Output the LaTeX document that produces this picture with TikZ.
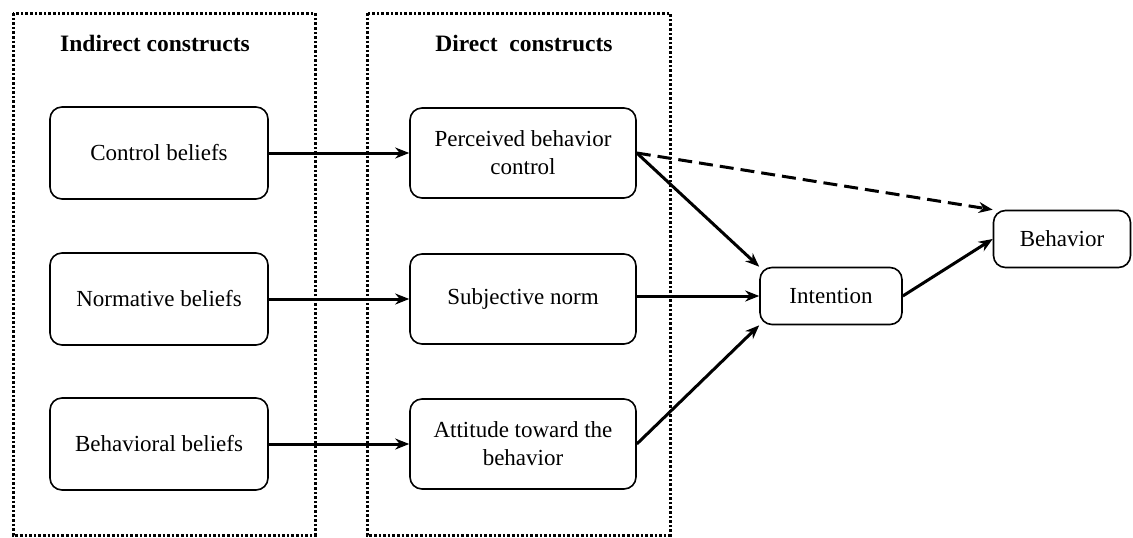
\documentclass[tikz,border=0pt]{standalone}
\usepackage{fontspec}
\setmainfont{Liberation Serif}
\usetikzlibrary{arrows.meta}
\begin{document}
\begin{tikzpicture}[x=1pt,y=-1pt,
  every node/.style={font=\fontsize{23}{28}\selectfont},
  cbox/.style={draw, line width=1.6pt, rounded corners=12pt, align=center, inner sep=2pt},
  bigbox/.style={cbox, minimum width=218pt, minimum height=92pt},
  midbox/.style={cbox, minimum width=226pt, minimum height=90pt},
  group/.style={draw, line width=3pt, dash pattern=on 2.6pt off 2pt},
  conn/.style={line width=3pt, -{Stealth[length=14pt,width=11pt]}},
  head/.style={font=\fontsize{23.5}{28}\selectfont\bfseries}]
\useasboundingbox (0,0) rectangle (1133,538);
\draw[group] (13,13) rectangle (315,535);
\draw[group] (367,13) rectangle (670,535);
\node[head] (hind) at (155,43) {Indirect constructs};
\node[head] (hdir) at (524,43) {Direct\ \ constructs};
\node[bigbox] (ctrl) at (159,153) {Control beliefs};
\node[bigbox] (norm) at (159,299) {Normative beliefs};
\node[bigbox] (beh) at (159,444) {Behavioral beliefs};
\node[midbox] (pbc) at (523,153) {Perceived behavior\\control};
\node[midbox] (subj) at (523,299) {Subjective norm};
\node[midbox] (att) at (523,444) {Attitude toward the\\behavior};
\node[cbox, minimum width=142pt, minimum height=57pt] (int) at (831,296) {Intention};
\node[cbox, minimum width=137pt, minimum height=57pt] (bhv) at (1062,239) {Behavior};
\draw[conn] (ctrl) -- (pbc);
\draw[conn] (norm) -- (subj);
\draw[conn] (beh) -- (att);
\draw[conn] (pbc.east) -- (int.north west);
\draw[conn] (subj.east |- int.west) -- (int.west);
\draw[conn] (att.east) -- (int.south west);
\draw[conn, dash pattern=on 14pt off 7pt] (pbc.east) -- (bhv.north west);
\draw[conn] (int.east) -- (bhv.west);
\end{tikzpicture}
\end{document}
